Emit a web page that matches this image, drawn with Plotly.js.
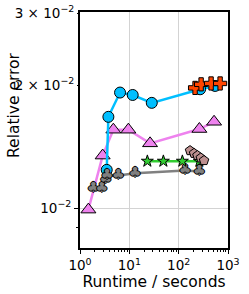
<!DOCTYPE html>
<html><head><meta charset="utf-8">
<script src="https://cdn.plot.ly/plotly-3.0.1.min.js"></script>
<style>html,body{margin:0;padding:0;background:#fff;}#plot{width:249px;height:294px;}</style>
</head><body><div id="plot"></div>
<script>
// Data
var blueX = [3.48, 3.76, 6.48, 11.7, 28.5, 272, 547];
var blueY = [0.01242, 0.01674, 0.01919, 0.01893, 0.01811, 0.01955, 0.01992];
var pinkX = [1.48, 2.88, 4.74, 9.55, 26.3, 263, 522];
var pinkY = [0.00993, 0.01346, 0.01557, 0.01557, 0.01442, 0.01563, 0.01628];
var grayX = [1.86, 2.75, 3.32, 3.53, 5.98, 13.1, 135, 263];
var grayY = [0.01121, 0.01121, 0.01176, 0.0120, 0.01203, 0.01219, 0.01237, 0.0123];
var greenX = [23.2, 49, 119, 263];
var greenY = [0.01304, 0.01304, 0.01304, 0.01304];
var rosyX = [170, 205, 240, 281, 327];
var rosyY = [0.01384, 0.01363, 0.01346, 0.01328, 0.01309];
var redX = [215, 285, 454, 692];
var redY = [0.0197, 0.0201, 0.0202, 0.0202];

var xTickVals = [1, 10, 100, 1000];
var xTickText = ['10<sup>0</sup>', '10<sup>1</sup>', '10<sup>2</sup>', '10<sup>3</sup>'];
var yMajorVals = [0.01];
var yMajorText = ['10<sup>\u22122</sup>'];
var yMinorLabVals = [0.02, 0.03];
var yMinorLabText = ['2 \u00d7 10<sup>\u22122</sup>', '3 \u00d7 10<sup>\u22122</sup>'];

var xMinor = [];
[1, 10, 100].forEach(function (d) { for (var k = 2; k <= 9; k++) xMinor.push(k * d); });

var FONT = 'DejaVu Sans, sans-serif';
var TICKSIZE = 13.5;
var yRange = [Math.log10(0.008), Math.log10(0.0302)];

var traces = [
  { x: pinkX, y: pinkY, mode: 'lines+markers', line: { color: '#EE82EE', width: 2.5 },
    marker: { symbol: 'triangle-up', size: 13, color: '#EE82EE', line: { color: '#000', width: 1 } } },
  { x: blueX, y: blueY, mode: 'lines+markers', line: { color: '#00BFFF', width: 2.5 },
    marker: { symbol: 'circle', size: 11, color: '#00BFFF', line: { color: '#000', width: 1 } } },
  { x: grayX, y: grayY, mode: 'lines+text', text: grayX.map(function () { return '\u2663'; }),
    textposition: 'middle center', line: { color: '#808080', width: 2.5 },
    textfont: { family: FONT, size: 14, color: '#808080',
      shadow: '1px 0 0 #000, -1px 0 0 #000, 0 1px 0 #000, 0 -1px 0 #000' } },
  { x: greenX, y: greenY, mode: 'lines+markers', line: { color: '#32CD32', width: 2.5 },
    marker: { symbol: 'star', size: 9, color: '#32CD32', line: { color: '#000', width: 1 } } },
  { x: rosyX, y: rosyY, mode: 'lines+markers', line: { color: '#BC8F8F', width: 2.5 },
    marker: { symbol: 'pentagon', size: 10, color: '#BC8F8F', line: { color: '#000', width: 1 } } },
  { x: redX, y: redY, mode: 'lines+markers', line: { color: '#FF4500', width: 2.5 },
    marker: { symbol: 'cross', size: 11, color: '#FF4500', line: { color: '#000', width: 1 } } },
  { x: [1], y: [0.02], yaxis: 'y2', mode: 'markers', marker: { opacity: 0 }, hoverinfo: 'skip' }
];

var layout = {
  width: 249, height: 294,
  margin: { l: 80, r: 21, t: 12, b: 46 },
  paper_bgcolor: '#fff', plot_bgcolor: '#fff',
  showlegend: false,
  font: { family: FONT, size: 12, color: '#000' },
  xaxis: {
    type: 'log', range: [0, 3],
    tickmode: 'array', tickvals: xTickVals, ticktext: xTickText,
    ticks: 'outside', ticklen: 4, tickwidth: 1, tickcolor: '#000',
    tickfont: { family: FONT, size: TICKSIZE, color: '#000' },
    showgrid: true, gridcolor: '#d3d3d3', gridwidth: 1,
    minor: { tickmode: 'array', tickvals: xMinor, ticks: 'outside', ticklen: 2, tickcolor: '#000', showgrid: false },
    showline: true, linecolor: '#000', linewidth: 2, mirror: true, zeroline: false,
    title: { text: 'Runtime / seconds', font: { family: FONT, size: 15.5, color: '#000' }, standoff: 3 }
  },
  yaxis: {
    type: 'log', range: yRange,
    tickmode: 'array', tickvals: yMajorVals, ticktext: yMajorText,
    ticks: 'outside', ticklen: 4, tickwidth: 1, tickcolor: '#000',
    tickfont: { family: FONT, size: TICKSIZE, color: '#000' },
    showgrid: true, gridcolor: '#d3d3d3', gridwidth: 1,
    minor: { tickmode: 'array', tickvals: [0.009], ticks: 'outside', ticklen: 2, tickcolor: '#000', showgrid: false },
    showline: true, linecolor: '#000', linewidth: 2, mirror: true, zeroline: false
  },
  yaxis2: {
    type: 'log', range: yRange, overlaying: 'y', side: 'left',
    tickmode: 'array', tickvals: yMinorLabVals, ticktext: yMinorLabText,
    ticks: 'outside', ticklen: 2, tickwidth: 1, tickcolor: '#000',
    tickfont: { family: FONT, size: TICKSIZE, color: '#000' },
    showgrid: false, showline: false, zeroline: false
  },
  annotations: [{
    text: 'Relative error', xref: 'paper', yref: 'paper', x: 0, y: 0.606,
    xanchor: 'center', yanchor: 'middle', xshift: -66, textangle: -90, showarrow: false,
    font: { family: FONT, size: 15.5, color: '#000' }
  }]
};

Plotly.newPlot('plot', traces, layout, { displayModeBar: false, staticPlot: true });
</script>
</body></html>
